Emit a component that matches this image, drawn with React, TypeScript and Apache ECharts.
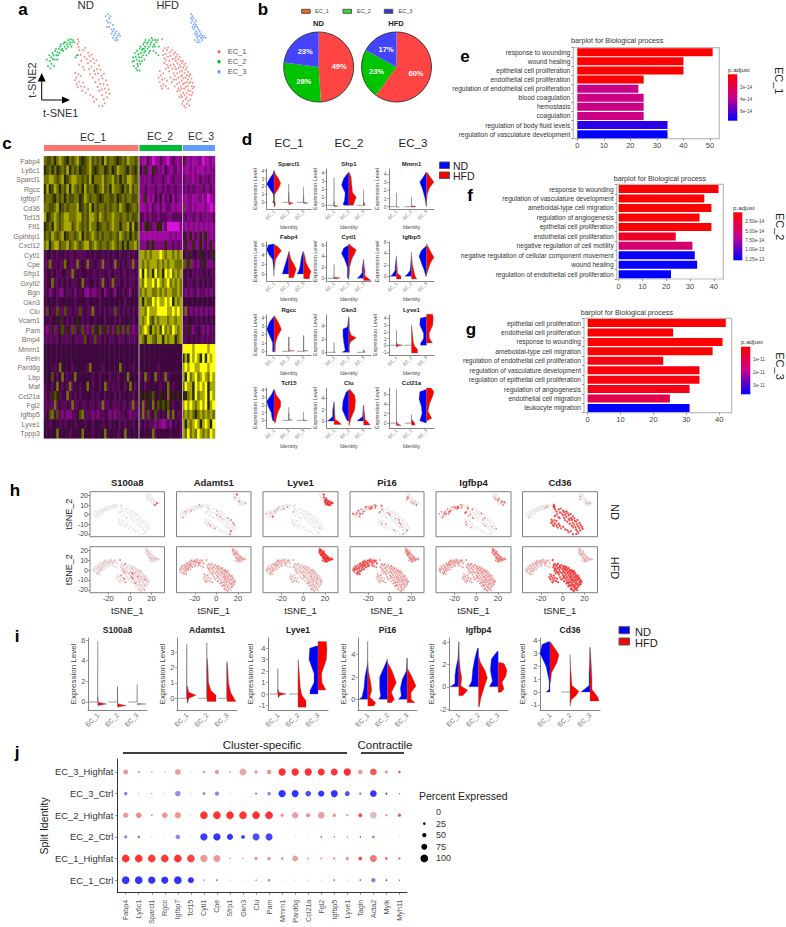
import React, { useEffect, useRef } from "react";
import * as echarts from "echarts";

const FONT = '"Liberation Sans", Arial, sans-serif';
const CL = ["#F8766D", "#00BA38", "#619CFF"];
const ND_BLUE = "#0000ff";
const HFD_RED = "#ff0000";

const ndEC1 = [[-8.2,10.3],[-7.6,9.1],[-8.4,8.2],[-7.7,6.8],[-6.8,5.4],[-5.7,3.2],[-3.6,5.5],[-1.8,6.4],[-5.3,0.4],[-2.6,2.3],[0.4,4.2],[-7.2,-1.3],[-3.9,-2.4],[-0.7,1.2],[1.6,2.6],[3.4,3.3],[-2.8,-3.6],[0.3,-0.6],[2.5,0.3],[4.7,1.4],[1.2,-3.4],[3.3,-2.2],[5.6,-0.7],[7.3,0.6],[2.1,-5.7],[5.4,-4.2],[7.8,-3.4],[9.4,-1.6],[4.2,-7.3],[6.3,-5.7],[8.6,-5.4],[10.7,-3.7],[11.3,-6.4],[6.5,-9.4],[9.2,-8.3],[12.4,-7.7],[13.6,-5.6],[8.3,-11.6],[10.4,-10.2],[13.2,-10.3],[15.4,-8.6],[9.6,-13.4],[11.7,-12.8],[14.3,-12.4],[16.4,-10.7],[12.2,-15.4],[15.3,-14.2],[17.6,-12.7],[13.4,-17.3],[16.2,-16.4],[18.3,-14.7],[14.3,-19.2],[12.4,-20.3],[-10.3,-5.2],[-9.4,-7.3],[-7.6,-5.8],[-10.6,-8.4],[-7.3,-9.2],[-9.2,-10.4],[-5.7,-6.6],[-8.3,-11.7],[-5.6,-11.3],[-3.7,-9.6],[-4.6,-13.4],[-2.7,-11.6],[-1.6,-14.3],[0.4,-12.7],[2.3,-15.4],[4.4,-16.2],[5.3,-18.4],[7.4,-17.3],[9.3,-20.4]];
const ndEC2 = [[-34,1],[-33,-2],[-32,3],[-31.4,0.3],[-31,-3],[-30.3,2],[-30,-1],[-29.2,4],[-29,1.2],[-28,-2],[-28.4,3],[-27,5],[-27.5,1],[-26,3],[-26.4,6],[-25,4.4],[-25.3,1],[-24,6],[-24.5,3],[-23,7],[-23.4,4],[-22,5.4],[-22.3,8],[-21,6],[-20,8.3],[-20.4,5],[-19,7],[-19.4,9],[-18,6],[-18.3,9],[-17,8],[-16,10],[-16.4,7],[-15,9],[-14,10.3],[-14.5,8],[-13,9],[-12,10],[-13.4,7],[-11,9],[-9,3],[-8,3],[-10,2]];
const ndEC3 = [[15,21],[16,19],[17,22],[17,18],[18,20],[18,16],[16,16],[19,21],[19,18],[20,15],[20,13],[21,17],[21,14],[22,12],[22,15],[23,13],[24,11],[24,14],[25,12],[26,13],[27,12],[25,10],[23,10],[21,11]];
const hfEC1 = [[-9.2,10.4],[-8.3,5.2],[-7.1,6.3],[-6.4,3.7],[-8.6,3.1],[-7.3,1.6],[-5.2,5.4],[-4.3,6.6],[-2.8,4.3],[-6.1,0.7],[-4.4,2.3],[-2.3,2.7],[-1.2,5.3],[-7.4,-0.6],[-5.3,-1.4],[-3.2,0.4],[-0.7,1.3],[0.3,3.4],[1.4,4.3],[-6.3,-3.2],[-4.2,-2.6],[-2.4,-1.7],[0.3,-1.2],[1.2,1.4],[2.3,2.2],[3.4,3.3],[-3.3,-4.4],[-0.8,-3.2],[1.4,-2.3],[2.2,0.4],[4.3,1.2],[5.4,2.3],[0.4,-5.3],[2.3,-3.4],[3.4,-0.7],[5.3,-1.4],[6.2,0.4],[1.3,-6.4],[3.2,-5.3],[4.4,-2.8],[6.3,-2.4],[7.4,-0.7],[8.2,0.3],[2.4,-8.2],[4.2,-7.3],[5.4,-4.7],[7.3,-4.2],[8.4,-2.7],[9.2,-1.6],[10.3,-0.8],[3.3,-10.2],[5.2,-9.4],[6.3,-6.8],[7.4,-6.3],[9.3,-5.2],[10.4,-3.7],[11.2,-2.6],[12.3,-4.7],[4.3,-12.3],[6.2,-11.4],[7.3,-8.7],[8.4,-7.6],[10.2,-7.3],[11.4,-6.2],[13.3,-6.6],[14.2,-5.7],[3.4,-13.6],[5.3,-13.2],[7.2,-12.4],[8.3,-10.3],[9.4,-9.7],[11.2,-9.4],[12.4,-8.2],[14.3,-9.2],[15.2,-7.7],[6.3,-15.2],[8.4,-14.3],[9.2,-12.4],[10.4,-11.6],[12.2,-11.3],[13.3,-9.8],[15.4,-11.2],[16.3,-9.7],[5.2,-16.3],[7.3,-16.2],[9.4,-15.3],[11.2,-14.4],[12.4,-13.2],[14.3,-13.4],[16.2,-12.3],[17.4,-11.6],[8.3,-18.2],[10.4,-17.3],[11.2,-16.4],[13.4,-15.2],[15.3,-15.4],[16.4,-14.2],[9.2,-20.3],[11.3,-19.4],[12.4,-18.2],[14.2,-17.3],[13.3,-20.2],[10.4,-21.2],[7.3,-19.4],[-11.2,-4.3],[-10.3,-6.2],[-12.2,-7.3],[-9.2,-8.2],[-11.3,-9.2],[-8.2,-5.3],[-8.3,-10.4],[-10.2,-11.3],[-7.2,-7.7],[-6.3,-11.2],[-5.2,-8.7],[-4.2,-12.3],[-9.3,-12.4],[-2.4,-7.3],[-1.3,-9.4],[0.4,-8.2],[1.3,-11.4]];
const hfEC2 = [[-34,0],[-33.4,2],[-33,-2],[-32,4],[-32.5,0.4],[-31,-3],[-31.3,2.3],[-30,5],[-30.4,1],[-29.8,-1],[-29,3.4],[-29.3,-2],[-28,6],[-28.4,2],[-28.2,0.3],[-27,4],[-27.4,-1],[-27.3,7],[-26,5.4],[-26.4,2],[-26,0.3],[-25,8],[-25.4,6],[-25.2,3],[-24,9],[-24.4,6],[-24.2,4.3],[-24,1],[-23,10],[-23.4,7],[-23.2,5],[-22,8.4],[-22.3,3],[-21,9],[-21.4,6],[-20,10],[-20.4,7],[-20.2,4],[-19,8],[-19.3,5],[-18,11],[-18.4,9],[-17,7],[-17.3,10],[-16,8],[-16.4,5],[-15,10],[-15.3,7],[-14,9],[-13,10],[-14.4,4],[-12,7],[-12.3,3],[-30,-4],[-28,-4]];
const hfEC3 = [[15,22],[15,20],[15,18],[16,21],[16,19],[16,16],[17,20],[17,17],[17,15],[18,18],[18,16],[18,13],[19,19],[19,17],[19,14],[19,12],[20,16],[20,13],[20,11],[21,15],[21,12],[21,10],[22,14],[22,12],[23,13],[23,11],[24,12],[24,10],[25,11],[26,12],[27,11],[18,10],[20,9],[22,9]];

// ---------- expression levels per t-SNE point (digits 0-9), panel h ----------
const hGenes = ["S100a8", "Adamts1", "Lyve1", "Pi16", "Igfbp4", "Cd36"];
const exprND = [
  ["000000000000000000000000000000000000000000000000000000000000000000000000", "0000000000000000000000000000000000000000000", "000000000000000000800070"],
  ["000300000040000005000600030000060000500060005000700060000400060005000000", "0000400000500000000040000000000500000000000", "000500080000500000004000"],
  ["000000000000000000000000000000000000000000000030000000000000000000000000", "4000030008000500040000300000500000050000400", "000000098999899989999899"],
  ["080060000400060005000000040000500060006000300000060040000500004000005000", "7006050706007050605040706050708060507050604", "000700500040060003000600"],
  ["000800605004000060050000006004000300050000040000005000400050000300000000", "4050604070506050608060407060508070604050607", "000504000705000606070500"],
  ["889788978899878988978898789789988987898897888978889789988978899887898889", "0000300000000000000000000000000040050000000", "040000300000050000400000"],
];
const exprHF = [
  ["6111112613111161111141112114111118111513111711111211161111311141211512111611131131111211112111311411141111211511117", "1111111111211111111311111111211111111131111121111111111", "1111211111131111112111111131111111"],
  ["5343254343534235345243534354234534342534354324535432453435423454354245342353453254345324534352453432534543234535343", "4535243543524354253645243543524354352453435245352435425", "3424342534243423534243524342342434"],
  ["3232423323243233242323423324232342332423324232342333242334233242323423324232342332423324232342332423233423324232342", "2323422342324332424323423243623432342332423234223423242", "6998999899998998999989899989998899"],
  ["4353435343534354345343534353435435343534353453435343534353435343534353453435343534354353435343534353435345343534353", "7867868786787867878678787678678786787868786787867878678", "4544545854454545445454544545454454"],
  ["5354535453545345354535453543545354534535453545345354535435453545345354534535453545345354535453543545354534535453545", "4534543543453454345345434534543453454354345345434534543", "6565656656565665656565665656565665"],
  ["8989898898998989889898988989899898988989898998989889898989889898988989898998989889898989889898989889898988989893898", "3232323432323232432323234323232323243232323243232323232", "3232132321323231323213232132313232"],
];

// ---------- panel b ----------
const pieLabels = ["EC_1", "EC_2", "EC_3"];
const pieND = [49, 28, 23];
const pieHFD = [60, 23, 17];

// ---------- panel c ----------
const heatGenes = ["Fabp4","Ly6c1","Sparcl1","Rgcc","Igfbp7","Cd36","Tcf15","Flt1","Gpihbp1","Cxcl12","Cytl1","Cpe","Sfrp1","Gxylt2","Bgn","Gkn3","Clu","Vcam1","Pam","Bmp4","Mmrn1","Reln","Pard6g","Lbp","Maf","Ccl21a","Fgl2","Igfbp5","Lyve1","Tppp3"];
const heatRows = [
  "76675787657678656786767586776567687767|21132011321023212|5212112201121",
  "56757567685767566786567756756877657657|42521532214212312|2112121112122",
  "77887678567887767685777867786757688767|22222322232123222|3222122322322",
  "58568757685876758677567867587765768677|22322232232322322|3232322232232",
  "67765767576677568767765677667567677667|12512142413241321|2122112212012",
  "77667856767778567685767767677687656776|11221321312321211|6122121112101",
  "85678767887778867688768767787767767667|33232332333223333|2322322322223",
  "56758767888678767687756776787757785856|31553225513000002|2121212121212",
  "67687678567767857678767677677687675767|11111111111121211|5325232525212",
  "78578867786787678867876776787675757786|22252522225223232|2522522523252",
  "34434344343343333434344343434434434344|88787888987887878|4353443543435",
  "33733433743337343733433733437343433733|87878887878788777|7636232353223",
  "34434334433734344343343343343343343343|95978597859897878|3434333343433",
  "34473343434334473344343734373344343343|87988979878978787|3433433434343",
  "34234322433424342132233423432443432443|78788778787887787|3232332332323",
  "44444344444434444344443444444444344444|85877989889895878|4444444444444",
  "36433633633433634337343434336343434343|88798889999889898|2732323232323",
  "44344453434345434344344434443434444344|87897687888788788|4344434343434",
  "32352356353625363236356352525636363233|78985878697879878|3353234323233",
  "33333343333433336433633434334333433334|87588768858788578|3343434333333",
  "44444444444444444444444444444444444444|44444444444444444|9999899999899",
  "44444444444444444444444444444444444444|44444444444444444|5859898595989",
  "44443474444344444374444344444474444344|44444443444444444|8989988999899",
  "44464347434474444443443444344344474444|34734473437344444|8597897898798",
  "34434743437344344743443473434344347434|44344444344743444|7988598989588",
  "34356534473434344443434434443434444344|54545644544745454|5578597889598",
  "33337343343733433433433733433343343733|47354746565643443|8989878989589",
  "34673632322334673332323343232333432333|37363463434737433|7878757878787",
  "44344434344434443443444344344434344344|34343323212324343|8587898589859",
  "44444744443444474443444474444344744444|44444734444434443|8797879878798",
];
const heatPalette = ["#d810d8","#a008a0","#800880","#5a085a","#3e083e","#2a2a00","#4e4e00","#727200","#a8a800","#ffff00"];

// ---------- violin profiles: [y, half-width, y, half-width ...], ND then HFD for EC_1..3 ----------
const vSparcl1 = [[[-.1,.02,0,.1,.3,.03,1,.05,1.7,.3,2.3,.5,3,.3,3.6,.08,4,.01],[-.6,.03,-.2,.1,.2,.02,1,.05,1.7,.3,2.4,.45,3,.3,3.6,.08,4,.01]],[[0,.45,0,.02,2.3,.005],[-.3,.02,-.1,.3,0,.02,1.2,.005]],[[0,.45,0,.02,1.9,.005],[-.15,.02,-.1,.3,0,.005,.8,.005]]];
const vSfrp1 = [[[0,.45,0,.01,3.4,.005],[-.15,.02,-.1,.3,0,.01,.5,.005]],[[0,.3,.1,.4,.6,.3,1.5,.25,2.5,.5,3.3,.35,4,.05],[0,.3,.5,.4,1,.5,1.6,.25,2.5,.2,3.5,.15,4.1,.01]],[[0,.45,0,.005,1.9,.005],[0,.1,.5,.005]]];
const vMmrn1 = [[[0,.45,0,.01,1.7,.005],[-.05,.2,0,.01]],[[0,.45,0,.01,1.2,.005],[-.05,.2,.05,.3,.1,.01]],[[0,.02,1,.1,2,.25,3,.45,3.7,.2,4.2,.03],[.5,.01,1.5,.05,2.3,.2,3,.5,3.5,.3,4.2,.03]]];
const vFabp4 = [[[-.4,.01,1,.03,3,.1,4,.35,5,.5,6,.4,6.2,.05],[1,.02,3,.1,4,.3,4.8,.5,5.5,.3,6,.08]],[[0,.45,.5,.4,1.5,.3,2.5,.2,3.5,.1,4.6,.01],[-.8,.3,0,.4,1,.5,2,.35,3,.15,4.6,.02]],[[0,.45,.5,.35,1.5,.25,2.5,.2,3.5,.15,4.6,.05],[-1,.4,-.3,.4,.5,.5,1.5,.3,2.5,.15,3.5,.1,4.4,.01]]];
const vCytl1 = [[[0,.45,0,.01,2.5,.005],[-.1,.2,.1,.4,.2,.02]],[[-.2,.02,.2,.1,2,.1,3.5,.3,4.5,.5,5.5,.35,6,.03],[.5,.02,2,.05,3.5,.2,4.5,.4,5.2,.5,5.8,.2,6.3,.01]],[[0,.45,.3,.3,1,.1,1.8,.1,3.4,.005],[-.4,.5,0,.3,.5,.08,1.5,.1,2,.05,3.4,.005]]];
const vIgfbp5 = [[[0,.45,.2,.3,1,.1,2,.08,3.6,.005],[-.5,.3,0,.3,.5,.08,1.5,.05,3,.005]],[[0,.45,.3,.3,1,.1,2,.06,4.2,.005],[-.5,.35,0,.25,1,.15,2,.07,3.5,.01]],[[0,.05,1,.15,2,.3,3.5,.5,4.5,.35,5.3,.03],[.3,.02,1.5,.15,2.5,.3,3.3,.5,4.2,.3,5.7,.01]]];
const vRgcc = [[[-.05,.1,.4,.1,1,.1,1.8,.3,2.6,.5,3.5,.3,4.1,.03],[-.05,.08,.4,.08,1,.1,1.8,.25,2.6,.5,3.4,.3,4.2,.03]],[[0,.45,0,.01,1.7,.005],[0,.01,.05,.4,.1,.01,1.7,.005]],[[0,.45,0,.01,1.9,.005],[0,.01,.05,.3,.1,.005,1.8,.005]]];
const vGkn3 = [[[0,.45,0,.01,1.5,.005],[0,.1,.05,.01]],[[0,.45,.3,.25,1.5,.35,2.5,.4,3.5,.4,3.8,.1,5.4,.01],[0,.05,1,.03,1.6,.12,2.2,.5,2.6,.15,3.5,.03,5.2,.01]],[[0,.45,0,.005,.4,.005],[0,.1,.3,.005]]];
const vLyve1 = [[[0,.42,0,.01,2.2,.01],[-.3,.02,-.1,.1,0,.42,.15,.05,.4,.01]],[[0,.45,0,.005],[-1.15,.4,-.6,.4,-.1,.2,.5,.12,1.5,.08,3,.01]],[[0,.4,.3,.4,1,.2,1.8,.2,3,.45,4,.42,4.2,.1],[.35,.4,1,.2,1.8,.18,3,.42,4,.45,4.6,.42]]];
const vTcf15 = [[[-.05,.1,.4,.15,1,.2,1.8,.4,2.5,.5,3.3,.2,4,.02],[-.3,.1,.2,.15,1,.25,1.8,.45,2.5,.45,3.3,.15,4,.02]],[[0,.45,0,.01,1.7,.005],[0,.01,.05,.25,.1,.005,.9,.005]],[[0,.45,0,.01,1.1,.005],[-.05,.25,.05,.005]]];
const vClu = [[[0,.45,.3,.3,.8,.1,1.8,.1,3.4,.005],[-.6,.5,-.2,.35,.3,.08,1.5,.05,3.2,.005]],[[0,.1,.8,.25,2,.45,3.5,.4,5,.2,5.4,.05],[-.8,.02,.5,.15,2,.4,3.5,.45,4.5,.4,5.5,.1]],[[0,.45,.3,.3,.8,.07,1.8,.05,2.8,.005],[-.7,.45,-.2,.3,.3,.1,1,.08,2,.03,2.8,.005]]];
const vCcl21a = [[[0,.45,0,.01,7,.005],[-.5,.3,0,.05,.5,.005]],[[0,.45,0,.01,1.8,.005],[-.4,.25,.1,.2,.8,.005]],[[.1,.1,.5,.45,2,.3,3.5,.35,5,.5,6.5,.45,7,.05],[.5,.05,1,.35,2.5,.1,4,.2,5.5,.4,6.5,.5,7.3,.3]]];
const vS100a8 = [[[0,.45,0,.01,5.9,.005],[-.35,.02,-.2,.45,-.05,.08,0,.005,.5,.005]],[[0,.45,0,.01,1.5,.01],[-.5,.02,-.35,.45,-.2,.05,0,.01,1.5,.005]],[[0,.45,0,.01,1.7,.005],[-.25,.02,-.2,.45,-.15,.01]]];
const vAdamts1 = [[[0,.45,0,.02,3.5,.01],[-.3,.03,0,.1,.2,.45,.4,.1,.8,.01]],[[0,.45,0,.01,3.6,.01],[-.2,.45,.2,.45,.5,.2,1,.08,2,.05,2.6,.01]],[[0,.45,0,.01,2.4,.008],[-.2,.45,0,.35,.4,.18,1,.08,1.9,.04,2.3,.005]]];
const vPi16 = [[[0,.45,.2,.3,1,.2,2,.15,3.2,.02,5.2,.01],[-.6,.3,-.3,.4,.2,.1,.8,.2,1.5,.15,2.6,.02,3.3,.005]],[[0,.45,.3,.35,1,.4,2,.4,3,.15,3.6,.01],[-.3,.2,0,.35,.6,.2,1.5,.45,2.5,.25,3.3,.01]],[[0,.45,.3,.3,1,.35,1.8,.25,2.5,.05,3.7,.01],[-.3,.4,0,.2,.6,.2,1.2,.45,2,.25,2.8,.005,3.7,.005]]];
const vIgfbp4 = [[[0,.45,.3,.2,1,.2,1.7,.15,2.5,.05,4.1,.005],[-.8,.2,-.3,.45,.1,.1,.8,.15,1.5,.08,2.5,.02,4,.005]],[[0,.5,.5,.35,1.5,.3,2.5,.2,3.5,.05],[-1.8,.05,-1,.12,0,.3,.8,.45,1.4,.35,2.2,.1,2.8,.01]],[[0,.45,.5,.3,1.5,.4,2.5,.35,3.2,.05],[-.5,.15,-.2,.3,.4,.2,1,.4,1.5,.45,2.1,.3,2.2,.1]]];
const vCd36 = [[[0,.2,.2,.05,.9,.05,2,.2,3,.5,3.7,.4,3.9,.1],[.7,.02,1.5,.08,2.3,.35,2.9,.45,3.5,.2,3.9,.01]],[[0,.45,0,.005],[-1.1,.01,-.6,.07,-.3,.3,.05,.45,.5,.1,1.5,.05,2.2,.02,2.9,.005]],[[0,.45,.2,.3,.5,.05,1.5,.05,2.2,.02,3.5,.005],[-.7,.45,-.4,.4,.2,.1,1,.1,2,.07,3.4,.005]]];

const clusters = ["EC_1", "EC_2", "EC_3"];

// ---------- panels e, f, g ----------
const eTerms = ["response to wounding","wound healing","epithelial cell proliferation","endothelial cell proliferation","regulation of endothelial cell proliferation","blood coagulation","hemostasis","coagulation","regulation of body fluid levels","regulation of vasculature development"];
const eCounts = [51,40,40,25,23,25,25,25,34,34];
const eP = [1e-16,2e-16,2e-16,1e-15,3.7e-14,3.6e-14,3.6e-14,3.6e-14,6.8e-14,7.6e-14];
const fTerms = ["response to wounding","regulation of vasculature development","ameboidal-type cell migration","regulation of angiogenesis","epithelial cell proliferation","endothelial cell proliferation","negative regulation of cell motility","negative regulation of cellular component movement","wound healing","regulation of endothelial cell proliferation"];
const fCounts = [42,36,39,34,39,24,31,32,33,22];
const fP = [1e-16,2e-16,3e-16,5e-16,6e-16,1.9e-14,5.4e-14,1.32e-13,1.33e-13,1.35e-13];
const gTerms = ["epithelial cell proliferation","endothelial cell proliferation","response to wounding","ameboidal-type cell migration","regulation of endothelial cell proliferation","regulation of vasculature development","regulation of epithelial cell proliferation","regulation of angiogenesis","endothelial cell migration","leukocyte migration"];
const gCounts = [42,26,41,38,23,34,34,31,25,31];
const gP = [1e-14,3e-14,5e-14,1e-13,2e-12,2e-12,2e-12,3e-12,1e-11,3.7e-11];

// ---------- panel j ----------
const dotGenes = ["Fabp4","Ly6c1","Sparcl1","Rgcc","Igfbp7","Tcf15","Cytl1","Cpe","Sfrp1","Gkn3","Clu","Pam","Mmrn1","Pard6g","Ccl21a","Fgl2","Igfbp5","Lyve1","Tagln","Acta2","Mylk","Myh11"];
const dotRows = ["EC_1_Ctrl","EC_1_Highfat","EC_2_Ctrl","EC_2_Highfat","EC_3_Ctrl","EC_3_Highfat"];
const dotEC1Ctrl = [[100,1],[100,1],[95,1],[90,1],[100,1],[75,1],[8,.55],[20,.5],[2,.4],[1,.3],[10,.5],[25,.45],[1,.3],[1,.3],[2,.4],[1,.4],[15,.5],[2,.4],[15,.55],[50,.55],[12,1],[5,.9]];
const dotEC1High = [[100,1],[100,1],[100,.95],[100,.95],[100,1],[100,.9],[95,.4],[90,.4],[8,.55],[8,.55],[40,.4],[40,.4],[30,.4],[75,.35],[12,.5],[15,.45],[25,.45],[40,.4],[40,.95],[90,.6],[25,.95],[20,.8]];
const dotEC2Ctrl = [[35,.5],[25,.6],[3,.4],[2,.3],[55,.5],[1,.3],[95,.95],[95,1],[75,1],[45,.9],[90,.85],[90,.9],[1,.3],[1,.3],[1,.3],[15,.5],[10,.5],[5,.7],[10,.8],[30,.5],[1,.3],[1,.3]];
const dotEC2High = [[65,.4],[70,.45],[15,.5],[70,.4],[80,.4],[2,.3],[100,1],[100,1],[100,1],[100,1],[100,1],[100,1],[35,.45],[80,.35],[50,.45],[85,.35],[40,.45],[20,.55],[45,.85],[85,.2],[20,.5],[35,.8]];
const dotEC3Ctrl = [[40,.5],[3,.4],[5,.6],[3,.4],[70,.45],[2,.3],[30,.5],[50,.5],[2,.3],[1,.3],[18,.6],[40,.5],[95,1],[90,1],[70,.85],[80,1],[90,1],[60,.85],[25,.45],[85,1],[15,.9],[10,.5]];
const dotEC3High = [[60,.4],[25,.4],[10,.4],[5,.4],[75,.35],[3,.3],[25,.45],[50,.4],[12,.5],[90,.3],[35,.45],[55,.4],[95,1],[95,1],[95,1],[90,1],[90,1],[95,1],[55,.4],[85,.8],[35,.4],[25,.9]];
const dotLegend = [0, 25, 50, 75, 100];

// ---------- helpers ----------
const mix = (a: number[], b: number[], t: number) => {
  const c = a.map((v, i) => Math.round(v + (b[i] - v) * t));
  return `rgb(${c[0]},${c[1]},${c[2]})`;
};
const pColor = (t: number) =>
  t < 0.5 ? mix([255, 0, 0], [200, 0, 140], t / 0.5) : mix([200, 0, 140], [0, 0, 255], (t - 0.5) / 0.5);
const dotSize = (p: number) => 0.8 + (p / 100) * 6.9;

function buildOption() {
  const grid: any[] = [], xAxis: any[] = [], yAxis: any[] = [], series: any[] = [], gfx: any[] = [], visualMap: any[] = [];
  const hidden = { show: false };
  const noLine = { show: false, onZero: false };
  const T = (text: string, x: number, y: number, o: any = {}) =>
    gfx.push({
      type: "text", x, y, z: 50, rotation: o.rot || 0, silent: true,
      style: {
        text, fill: o.color || "#222",
        font: `${o.bold ? "bold " : ""}${o.size || 8}px ${FONT}`,
        textAlign: o.align || "left", textVerticalAlign: "middle", align: o.align || "left", verticalAlign: "middle",
      },
    });
  const R = (x: number, y: number, w: number, h: number, fill: any, stroke?: string) =>
    gfx.push({ type: "rect", z: 50, silent: true, shape: { x, y, width: w, height: h }, style: { fill, stroke: stroke || "none", lineWidth: stroke ? 1 : 0 } });
  const L = (x1: number, y1: number, x2: number, y2: number, stroke: string, lw: number) =>
    gfx.push({ type: "line", z: 50, silent: true, shape: { x1, y1, x2, y2 }, style: { stroke, lineWidth: lw } });

  const addGrid = (l: number, t: number, r: number, b: number, extra: any = {}) => {
    grid.push({ left: l, top: t, width: r - l, height: b - t, containLabel: false, ...extra });
    return grid.length - 1;
  };

  // panel letters
  ([["a",23,9],["b",263,9],["c",7,143],["d",247,139],["e",465,56],["f",470,195],["g",471,329],["h",15,490],["i",17,636],["j",17,752]] as any[]).forEach(
    ([s, x, y]) => T(s, x, y, { size: 17, bold: true, color: "#000", align: "center" })
  );

  // ---- a ----
  const aPanels = [
    { l: 39.6, pts: [ndEC1, ndEC2, ndEC3] },
    { l: 125.2, pts: [hfEC1, hfEC2, hfEC3] },
  ];
  aPanels.forEach((p) => {
    const g = addGrid(p.l, 9.7, p.l + 86.4, 109.5);
    xAxis.push({ gridIndex: g, type: "value", min: -40, max: 32, ...hidden });
    yAxis.push({ gridIndex: g, type: "value", min: -22, max: 24, ...hidden });
    p.pts.forEach((d, i) =>
      series.push({ type: "scatter", xAxisIndex: g, yAxisIndex: g, data: d, symbolSize: 1.9, silent: true, itemStyle: { color: CL[i] } })
    );
  });
  T("ND", 85.7, 5, { size: 11.5, align: "center", color: "#333" });
  T("HFD", 167.7, 5, { size: 11, align: "center", color: "#333" });
  pieLabels.forEach((s, i) => {
    gfx.push({ type: "circle", z: 50, silent: true, shape: { cx: 219, cy: 51.7 + i * 10, r: 1.7 }, style: { fill: CL[i] } });
    T(s, 227.7, 51.7 + i * 10, { size: 7.5, color: "#555" });
  });
  L(41.7, 100, 41.7, 80, "#000", 1);
  L(41.7, 100, 64, 100, "#000", 1);
  gfx.push({ type: "polygon", z: 50, silent: true, shape: { points: [[41.7, 73], [37.7, 81.5], [45.7, 81.5]] }, style: { fill: "#000" } });
  gfx.push({ type: "polygon", z: 50, silent: true, shape: { points: [[70, 100], [62, 96.5], [62, 103.5]] }, style: { fill: "#000" } });
  T("t-SNE2", 31.7, 80, { size: 11, rot: Math.PI / 2, align: "center", color: "#333" });
  T("t-SNE1", 60.7, 112.7, { size: 11, align: "center", color: "#333" });

  // ---- b ----
  [[301.7, "#ef6420", 315], [343, "#33dd33", 357], [384.3, "#3333ee", 398.5]].forEach(([x, c, tx]: any, i) => {
    R(x, 9.3, 8.5, 4, c, "#555");
    T(pieLabels[i], tx, 11.3, { size: 5.5, color: "#444" });
  });
  T("ND", 318.5, 23, { size: 7.5, bold: true, align: "center" });
  T("HFD", 396, 23, { size: 7.5, bold: true, align: "center" });
  const pieCols = ["#ff4444", "#00c400", "#4444ff"];
  [[318.7, pieND], [396.5, pieHFD]].forEach(([cx, vals]: any) => {
    series.push({
      type: "pie", center: [cx, 67], radius: [0, 35], startAngle: 90, clockwise: true, silent: true,
      data: vals.map((v: number, i: number) => ({ value: v, name: pieLabels[i], itemStyle: { color: pieCols[i] } })),
      label: { position: "inside", formatter: "{c}%", color: "#fff", fontWeight: "bold", fontSize: 7.5, fontFamily: FONT },
      labelLine: { show: false },
    });
    gfx.push({ type: "circle", z: 50, silent: true, shape: { cx, cy: 67, r: 35 }, style: { fill: "none", stroke: "#222", lineWidth: 0.8 } });
  });

  // ---- c ----
  const heatParsed = heatRows.map((r) => {
    const segs = r.split("|");
    const lens = [38, 17, 13];
    const out: number[] = [];
    segs.forEach((s, k) => { for (let i = 0; i < lens[k]; i++) out.push(+s[i % s.length]); });
    return out;
  });
  const heatCols = heatParsed[0].map((_, i) => i);
  const cg = addGrid(44, 156.3, 215, 438.3);
  xAxis.push({ gridIndex: cg, type: "category", data: heatCols, ...hidden });
  yAxis.push({
    gridIndex: cg, type: "category", inverse: true, data: heatGenes,
    axisLine: hidden, axisTick: hidden,
    axisLabel: { interval: 0, fontSize: 7, color: "#7d6e5f", margin: 4, fontFamily: FONT },
  });
  const heatData: number[][] = [];
  heatParsed.forEach((row, y) => row.forEach((v, x) => heatData.push([x, y, v])));
  series.push({ type: "heatmap", xAxisIndex: cg, yAxisIndex: cg, data: heatData, silent: true, progressive: 0 });
  visualMap.push({ show: false, type: "continuous", seriesIndex: series.length - 1, dimension: 2, min: 0, max: 9, inRange: { color: heatPalette } });
  L(139, 156.3, 139, 438.3, "#aaa", 1);
  L(182.5, 156.3, 182.5, 438.3, "#aaa", 1);
  R(44, 145, 94.5, 6, CL[0]); R(139.5, 145, 42.5, 6, CL[1]); R(183, 145, 32, 6, CL[2]);
  T("EC_1", 93, 137, { size: 10.5, align: "center", color: "#333" });
  T("EC_2", 160, 136, { size: 10.5, align: "center", color: "#333" });
  T("EC_3", 201, 135.5, { size: 10.5, align: "center", color: "#333" });

  // ---- violins ----
  const violin = (g: number, prof: any) => {
    const halves: any[] = [];
    prof.forEach((pair: any, c: number) =>
      pair.forEach((p: number[], s: number) => halves.push({ c, s: s === 0 ? -1 : 1, p, fill: s === 0 ? ND_BLUE : HFD_RED }))
    );
    series.push({
      type: "custom", xAxisIndex: g, yAxisIndex: g, silent: true, clip: false,
      data: halves.map((h) => [h.c, h.p[0]]),
      encode: { x: 0, y: 1 },
      renderItem: (params: any, api: any) => {
        const h = halves[params.dataIndex];
        const cx = api.coord([h.c, 0])[0];
        const band = api.coord([1, 0])[0] - api.coord([0, 0])[0];
        const pts: number[][] = [[cx, api.coord([h.c, h.p[0]])[1]]];
        for (let i = 0; i < h.p.length; i += 2) pts.push([cx + h.s * h.p[i + 1] * band, api.coord([h.c, h.p[i]])[1]]);
        pts.push([cx, api.coord([h.c, h.p[h.p.length - 2]])[1]]);
        return { type: "polygon", shape: { points: pts }, style: { fill: h.fill, stroke: "#666", lineWidth: 0.35 } };
      },
    });
  };
  const violinAxes = (g: number, min: number, max: number, ticks: number[], o: any) => {
    xAxis.push({
      gridIndex: g, type: "category", data: clusters,
      axisLine: { onZero: false, lineStyle: { color: "#666", width: 0.8 } },
      axisTick: { alignWithLabel: true, length: 2, lineStyle: { color: "#666", width: 0.6 } },
      axisLabel: { interval: 0, rotate: 45, fontSize: o.xs, color: "#666", margin: o.xm, fontFamily: FONT },
      ...(o.xName ? { name: o.xName, nameLocation: "middle", nameGap: o.xGap, nameTextStyle: { fontSize: o.ns, color: "#444", fontFamily: FONT } } : {}),
    });
    yAxis.push({
      gridIndex: g, type: "value", min, max,
      splitLine: hidden,
      axisLine: { show: true, onZero: false, lineStyle: { color: "#666", width: 0.8 } },
      axisTick: { show: true, length: 2, customValues: ticks, lineStyle: { color: "#666", width: 0.6 } },
      axisLabel: { customValues: ticks, fontSize: o.ys, color: "#555", margin: 2.5, fontFamily: FONT },
      name: "Expression Level", nameLocation: "middle", nameGap: o.yGap, nameTextStyle: { fontSize: o.ns, color: "#444", fontFamily: FONT },
    });
  };

  // ---- d ----
  const dCols = [[266.7, 311], [326.7, 371], [389, 434]];
  const dRows = [[169, 209], [242, 281], [315, 355], [388, 428]];
  const dPanels: any[] = [
    ["Sparcl1", vSparcl1, 0, 0, -.85, 4.2, [0,1,2,3,4]], ["Sfrp1", vSfrp1, 1, 0, -.45, 4.45, [0,1,2,3,4]], ["Mmrn1", vMmrn1, 2, 0, -.28, 4.6, [0,1,2,3,4]],
    ["Fabp4", vFabp4, 0, 1, -1.45, 6.6, [0,2,4,6]], ["Cytl1", vCytl1, 1, 1, -.5, 6.6, [0,2,4,6]], ["Igfbp5", vIgfbp5, 2, 1, -.83, 6, [0,2,4,6]],
    ["Rgcc", vRgcc, 0, 2, -.44, 4.3, [0,1,2,3,4]], ["Gkn3", vGkn3, 1, 2, -.4, 5.6, [0,2,4]], ["Lyve1", vLyve1, 2, 2, -1.45, 4.5, [-1,0,1,2,3,4]],
    ["Tcf15", vTcf15, 0, 3, -1, 4.2, [0,1,2,3,4]], ["Clu", vClu, 1, 3, -1.23, 5.8, [0,2,4]], ["Ccl21a", vCcl21a, 2, 3, -1, 7.3, [0,2,4,6]],
  ];
  dPanels.forEach(([gene, prof, c, r, min, max, ticks]) => {
    const g = addGrid(dCols[c][0], dRows[r][0], dCols[c][1], dRows[r][1]);
    violinAxes(g, min, max, ticks, { xs: 4.5, xm: 2, xName: "Identity", xGap: 14, ns: 5.5, ys: 5, yGap: 7 });
    violin(g, prof);
    T(gene, (dCols[c][0] + dCols[c][1]) / 2, dRows[r][0] - 5.5, { size: 6, bold: true, align: "center" });
  });
  T("EC_1", 289, 143, { size: 11.5, align: "center", color: "#222" });
  T("EC_2", 349, 143, { size: 11.5, align: "center", color: "#222" });
  T("EC_3", 413, 143, { size: 11.5, align: "center", color: "#222" });
  R(439.5, 162, 10, 6.5, ND_BLUE, "#556"); R(439.5, 172, 10, 6.5, HFD_RED, "#556");
  T("ND", 453, 165.5, { size: 10.5 }); T("HFD", 453, 176, { size: 10.5 });

  // ---- bars e f g ----
  const barPanel = (terms: string[], counts: number[], ps: number[], pMax: number, box: number[], xMin: number, xMax: number, xt: number[]) => {
    const g = addGrid(box[0], box[1], box[2], box[3], { show: true, borderColor: "#bbb", borderWidth: 1.2, backgroundColor: "transparent" });
    xAxis.push({
      gridIndex: g, type: "value", min: xMin, max: xMax, splitLine: hidden, axisLine: noLine,
      axisTick: { show: true, length: 2, customValues: xt, lineStyle: { color: "#555", width: 0.6 } },
      axisLabel: { customValues: xt, fontSize: 7.5, color: "#444", margin: 3, fontFamily: FONT },
    });
    yAxis.push({
      gridIndex: g, type: "category", inverse: true, data: terms, axisLine: noLine,
      axisTick: { show: true, length: 2, lineStyle: { color: "#555", width: 0.6 } },
      axisLabel: { interval: 0, fontSize: 6.6, color: "#333", margin: 3, fontFamily: FONT },
    });
    series.push({
      type: "bar", xAxisIndex: g, yAxisIndex: g, silent: true, barWidth: 8,
      data: counts.map((v, i) => ({ value: v, itemStyle: { color: pColor(ps[i] / pMax) } })),
    });
  };
  barPanel(eTerms, eCounts, eP, 7.6e-14, [573.3, 47.7, 719.3, 138.7], -1.5, 53.5, [0,10,20,30,40,50]);
  barPanel(fTerms, fCounts, fP, 1.35e-13, [616.7, 184.3, 723.3, 279], -.84, 44, [0,10,20,30,40]);
  barPanel(gTerms, gCounts, gP, 3.7e-11, [584, 318.3, 731.7, 412.7], -1.1, 43.8, [0,10,20,30,40]);
  const gradient = new echarts.graphic.LinearGradient(0, 0, 0, 1, [
    { offset: 0, color: "#ff0000" }, { offset: 0.5, color: "#c8008c" }, { offset: 1, color: "#0000ff" },
  ]);
  R(728, 74.3, 9.3, 46.4, gradient); R(733.3, 212.3, 9, 48, gradient); R(741, 346.7, 9.3, 47.6, gradient);
  T("barplot for Biological process", 571, 40.7, { size: 7.2, color: "#333" });
  T("barplot for Biological process", 613.7, 178.3, { size: 7.2, color: "#333" });
  T("barplot for Biological process", 580.7, 312, { size: 7.2, color: "#333" });
  T("p.adjust", 728, 69.3, { size: 6.2, color: "#333" });
  T("p.adjust", 733, 207.3, { size: 6.2, color: "#333" });
  T("p.adjust", 741, 341.3, { size: 6.2, color: "#333" });
  ([["2e-14",87.3],["4e-14",99],["6e-14",111.7]] as any[]).forEach(([s, y]) => T(s, 740, y, { size: 4.8, color: "#444" }));
  ([["2.50e-14",221.3],["5.00e-14",231],["7.50e-14",240],["1.00e-13",249.7],["1.25e-13",259]] as any[]).forEach(([s, y]) => T(s, 745.3, y, { size: 4.8, color: "#444" }));
  ([["1e-11",359.3],["2e-11",372.3],["3e-11",385]] as any[]).forEach(([s, y]) => T(s, 753, y, { size: 4.8, color: "#444" }));
  T("EC_1", 779, 80.7, { size: 11, rot: -Math.PI / 2, align: "center", color: "#222" });
  T("EC_2", 780, 226.7, { size: 11, rot: -Math.PI / 2, align: "center", color: "#222" });
  T("EC_3", 780, 366, { size: 11, rot: -Math.PI / 2, align: "center", color: "#222" });

  // ---- h ----
  const hCols = [[90, 164.5], [176.5, 251], [263, 338], [350, 424], [436, 511], [522.5, 597.5]];
  const hRows = [[491.7, 536.7], [546.7, 592.7]];
  const levelColor = (lv: number) => mix([222, 222, 222], [238, 16, 16], lv / 9);
  hRows.forEach((rr, r) => {
    const sets = r === 0 ? [ndEC1, ndEC2, ndEC3] : [hfEC1, hfEC2, hfEC3];
    const expr = r === 0 ? exprND : exprHF;
    hCols.forEach((cc, c) => {
      const g = addGrid(cc[0], rr[0], cc[1], rr[1], { show: true, borderColor: "#808080", borderWidth: 1, backgroundColor: "transparent" });
      xAxis.push({
        gridIndex: g, type: "value", min: -37, max: 32, splitLine: hidden, axisLine: noLine,
        axisTick: { show: r === 1, length: 2, customValues: [-20, 0, 20], lineStyle: { color: "#666", width: 0.7 } },
        axisLabel: { show: r === 1, customValues: [-20, 0, 20], fontSize: 7.5, color: "#444", margin: 2, fontFamily: FONT },
        ...(r === 1 ? { name: "tSNE_1", nameLocation: "middle", nameGap: 13, nameTextStyle: { fontSize: 9.5, color: "#222", fontFamily: FONT } } : {}),
      });
      yAxis.push({
        gridIndex: g, type: "value", min: -23, max: 24, splitLine: hidden, axisLine: noLine,
        axisTick: { show: c === 0, length: 2, customValues: [-20, -10, 0, 10, 20], lineStyle: { color: "#666", width: 0.7 } },
        axisLabel: { show: c === 0, customValues: [-20, -10, 0, 10, 20], fontSize: 7, color: "#444", margin: 2, fontFamily: FONT },
        ...(c === 0 ? { name: "tSNE_2", nameLocation: "middle", nameGap: 16, nameTextStyle: { fontSize: 9, color: "#222", fontFamily: FONT } } : {}),
      });
      const data: any[] = [];
      sets.forEach((pts, k) => {
        const seg = expr[c][k];
        pts.forEach((p, i) => {
          const lv = +seg[i % seg.length];
          data.push({ value: p, symbolSize: lv >= 7 ? 2.3 : 1.8, itemStyle: { color: levelColor(lv) } });
        });
      });
      series.push({ type: "scatter", xAxisIndex: g, yAxisIndex: g, silent: true, data });
    });
  });
  hGenes.forEach((s, c) => T(s, (hCols[c][0] + hCols[c][1]) / 2, 482.7, { size: 9.5, bold: true, align: "center", color: "#222" }));
  T("ND", 615, 512, { size: 11, rot: -Math.PI / 2, align: "center", color: "#222" });
  T("HFD", 615, 568, { size: 11, rot: -Math.PI / 2, align: "center", color: "#222" });

  // ---- i ----
  const iPanels: any[] = [
    ["S100a8", vS100a8, 88, 147, -.78, 6.2, [0,2,4,6]],
    ["Adamts1", vAdamts1, 177, 237, -.76, 3.92, [0,1,2,3]],
    ["Lyve1", vLyve1, 268, 328, -1.4, 4.9, [-1,0,1,2,3,4]],
    ["Pi16", vPi16, 358, 417, -.96, 5.5, [0,2,4]],
    ["Igfbp4", vIgfbp4, 449, 508, -2.09, 4.4, [-2,0,2,4]],
    ["Cd36", vCd36, 540, 600, -1.4, 4.2, [-1,0,1,2,3,4]],
  ];
  iPanels.forEach(([gene, prof, l, r, min, max, ticks]) => {
    const g = addGrid(l, 638, r, 710);
    violinAxes(g, min, max, ticks, { xs: 6.5, xm: 4, ys: 7.5, ns: 8, yGap: 11 });
    violin(g, prof);
    T(gene, (l + r) / 2, 630, { size: 8.5, bold: true, align: "center", color: "#222" });
  });
  R(619, 626.7, 10.5, 7, ND_BLUE, "#556"); R(619, 638, 10.5, 7, HFD_RED, "#556");
  T("ND", 635, 632, { size: 11 }); T("HFD", 635, 643, { size: 11 });

  // ---- j ----
  const jg = addGrid(117.3, 759, 407, 895);
  const rowVals = dotRows.map((_, i) => i);
  const colVals = dotGenes.map((_, i) => i);
  xAxis.push({
    gridIndex: jg, type: "value", min: -0.645, max: 21.58, splitLine: hidden,
    axisLine: { show: true, onZero: false, lineStyle: { color: "#333", width: 1 } },
    axisTick: { show: true, length: 2, customValues: colVals, lineStyle: { color: "#555", width: 0.7 } },
    axisLabel: { customValues: colVals, rotate: 90, fontSize: 7.2, color: "#555", margin: 7, fontFamily: FONT, formatter: (v: number) => dotGenes[v] },
  });
  yAxis.push({
    gridIndex: jg, type: "value", min: -0.577, max: 5.6, splitLine: hidden,
    axisLine: { show: true, onZero: false, lineStyle: { color: "#333", width: 1 } },
    axisTick: { show: true, length: 2, customValues: rowVals, lineStyle: { color: "#555", width: 0.7 } },
    axisLabel: { customValues: rowVals, fontSize: 9.4, color: "#333", margin: 4, fontFamily: FONT, formatter: (v: number) => dotRows[v] },
    name: "Split Identity", nameLocation: "middle", nameGap: 68, nameTextStyle: { fontSize: 10.5, color: "#222", fontFamily: FONT },
  });
  const dotSets = [dotEC1Ctrl, dotEC1High, dotEC2Ctrl, dotEC2High, dotEC3Ctrl, dotEC3High];
  dotSets.forEach((row, y) => {
    const to = y % 2 === 0 ? [0, 0, 255] : [255, 0, 0];
    series.push({
      type: "scatter", xAxisIndex: jg, yAxisIndex: jg, silent: true,
      data: row.map(([p, lv], x) => ({ value: [x, y], symbolSize: dotSize(p), itemStyle: { color: mix([211, 211, 211], to, lv) } })),
    });
  });
  T("Cluster-specific", 262, 745, { size: 11.5, align: "center", color: "#222" });
  T("Contractile", 385, 745, { size: 11.5, align: "center", color: "#222" });
  L(123, 753, 347, 753, "#000", 1.6);
  L(361, 753, 404, 753, "#000", 1.6);
  T("Percent Expressed", 419, 796, { size: 10.5, color: "#222" });
  dotLegend.forEach((p, i) => {
    const y = 812 + i * 11.6;
    gfx.push({ type: "circle", z: 50, silent: true, shape: { cx: 424.3, cy: y, r: dotSize(p) / 2 }, style: { fill: "#000" } });
    T(String(p), 436, y, { size: 9, color: "#333" });
  });

  return {
    animation: false, backgroundColor: "#fff",
    textStyle: { fontFamily: FONT },
    grid, xAxis, yAxis, series, visualMap,
    graphic: { elements: gfx },
  };
}

export default function App() {
  const ref = useRef<HTMLDivElement>(null);
  useEffect(() => {
    document.body.style.margin = "0";
    const chart = echarts.init(ref.current!, undefined, { renderer: "svg" });
    chart.setOption(buildOption() as any);
    return () => chart.dispose();
  }, []);
  return <div ref={ref} style={{ width: 786, height: 927, position: "absolute", left: 0, top: 0 }} />;
}
